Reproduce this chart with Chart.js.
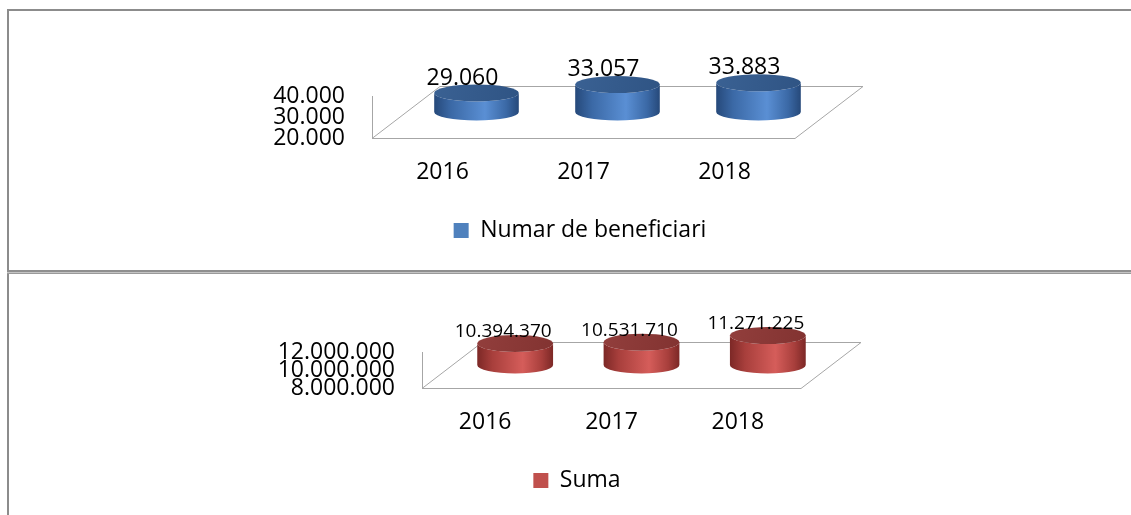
<!DOCTYPE html>
<html>
<head>
<meta charset="utf-8">
<script src="https://cdn.jsdelivr.net/npm/chart.js@4.4.1/dist/chart.umd.min.js"></script>
<style>
    html, body { margin: 0; padding: 0; background: #fff; overflow: hidden; }
    body { width: 1131px; height: 515px; position: relative; }
    .line { position: absolute; }
    canvas { position: absolute; }
</style>
</head>
<body>
<div class="line" style="left:7px; top:9px; width:1124px; height:2px; background:#8c8c8c;"></div>
<div class="line" style="left:7px; top:9px; width:2px; height:506px; background:#8c8c8c;"></div>
<div class="line" style="left:7px; top:270px; width:1124px; height:2px; background:#8f8f8f;"></div>
<div class="line" style="left:7px; top:272px; width:1124px; height:1px; background:#c4c4c4;"></div>
<div class="line" style="left:7px; top:273px; width:1124px; height:1px; background:#9a9a9a;"></div>

<canvas id="chartBenef" width="1122" height="259" style="left:9px; top:11px;"></canvas>
<canvas id="chartSuma" width="1122" height="240" style="left:9px; top:275px;"></canvas>

<script>
// --- Data ---
const years = ['2016', '2017', '2018'];
const beneficiari = [29060, 33057, 33883];
const suma = [10394370, 10531710, 11271225];
const beneficiariTicks = [20000, 30000, 40000];
const sumaTicks = [8000000, 10000000, 12000000];

Chart.defaults.font.family = "'Open Sans', 'Noto Sans', sans-serif";
Chart.defaults.color = '#000';

function fmt(v) {
    return String(v).replace(/\B(?=(\d{3})+(?!\d))/g, '.');
}

// draws the floor + cylinders + value labels
const cylinderPlugin = {
    id: 'cylinders',
    afterLayout(chart) {
        // move the legend so it sits where Excel put it
        const o = chart.options.plugins.cylinders;
        const l = chart.legend;
        const w = l.right - l.left;
        l.left = o.legendCenter - w / 2;
        l.right = o.legendCenter + w / 2;
    },
    beforeDatasetsDraw(chart) {
        const o = chart.options.plugins.cylinders;
        const a = chart.chartArea;
        const ctx = chart.ctx;
        ctx.save();
        ctx.strokeStyle = '#a6a6a6';
        ctx.lineWidth = 1;
        ctx.beginPath();
        ctx.moveTo(a.left + 0.5, a.top);
        ctx.lineTo(a.left + 0.5, a.bottom);
        ctx.stroke();
        ctx.beginPath();
        ctx.moveTo(a.left, a.bottom + 0.5);
        ctx.lineTo(a.right, a.bottom + 0.5);
        ctx.lineTo(a.right + o.dx, a.bottom + o.dy + 0.5);
        ctx.lineTo(a.left + o.dx, a.bottom + o.dy + 0.5);
        ctx.closePath();
        ctx.stroke();
        ctx.restore();
    },
    beforeDatasetDraw() {
        return false;
    },
    afterDatasetsDraw(chart) {
        const o = chart.options.plugins.cylinders;
        const ctx = chart.ctx;
        const meta = chart.getDatasetMeta(0);
        const values = chart.data.datasets[0].data;
        const yScale = chart.scales.y;
        const basePx = yScale.getPixelForValue(yScale.min);
        meta.data.forEach(function(bar, i) {
            const cx = bar.x + o.dx / 2;
            const rx = bar.width / 2;
            const ry = o.ry;
            const topY = bar.y + o.dy / 2;
            const botY = basePx + o.dy / 2;

            ctx.save();
            const g = ctx.createLinearGradient(cx - rx, 0, cx + rx, 0);
            g.addColorStop(0, o.dark);
            g.addColorStop(0.2, o.mid);
            g.addColorStop(0.6, o.light);
            g.addColorStop(0.85, o.mid);
            g.addColorStop(1, o.dark);
            ctx.fillStyle = g;
            ctx.beginPath();
            ctx.moveTo(cx - rx, topY);
            ctx.lineTo(cx - rx, botY);
            ctx.ellipse(cx, botY, rx, ry, 0, Math.PI, 0, true);
            ctx.lineTo(cx + rx, topY);
            ctx.ellipse(cx, topY, rx, ry, 0, 0, Math.PI, false);
            ctx.closePath();
            ctx.fill();

            const gt = ctx.createLinearGradient(cx - rx, topY - ry, cx + rx, topY + ry);
            gt.addColorStop(0, o.topA);
            gt.addColorStop(1, o.topB);
            ctx.fillStyle = gt;
            ctx.beginPath();
            ctx.ellipse(cx, topY, rx, ry, 0, 0, Math.PI * 2);
            ctx.fill();

            ctx.fillStyle = '#000';
            ctx.font = o.labelSize + "px 'Open Sans', 'Noto Sans', sans-serif";
            ctx.textAlign = 'center';
            ctx.textBaseline = 'middle';
            ctx.fillText(fmt(values[i]), cx + o.labelDx, topY + o.labelDy);
            ctx.restore();
        });
    }
};

function makeChart(id, label, values, ticks, color, geo) {
    return new Chart(document.getElementById(id), {
        type: 'bar',
        data: {
            labels: years,
            datasets: [{
                label: label,
                data: values,
                backgroundColor: color,
                borderWidth: 0,
                categoryPercentage: 1,
                barPercentage: 0.6
            }]
        },
        options: {
            responsive: false,
            animation: false,
            devicePixelRatio: 1,
            layout: {
                padding: { left: 0, right: geo.padRight, top: geo.padTop, bottom: geo.padBottom }
            },
            scales: {
                x: {
                    grid: { display: false, drawTicks: false },
                    border: { display: false },
                    ticks: { font: { size: 23 }, padding: 21, maxRotation: 0 },
                    afterFit: function(s) { s.height = 71; }
                },
                y: {
                    min: ticks[0],
                    max: ticks[ticks.length - 1],
                    grid: { display: false, drawTicks: false },
                    border: { display: false },
                    ticks: {
                        font: { size: 23 },
                        padding: 27,
                        autoSkip: false,
                        callback: function(v) { return fmt(v); }
                    },
                    afterBuildTicks: function(s) {
                        s.ticks = ticks.map(v => ({ value: v }));
                    },
                    afterFit: function(s) { s.width = geo.left; }
                }
            },
            plugins: {
                legend: {
                    position: 'bottom',
                    fullSize: false,
                    labels: {
                        boxWidth: 15,
                        boxHeight: 15,
                        font: { size: 23 }
                    }
                },
                tooltip: { enabled: false },
                cylinders: geo.cyl
            }
        },
        plugins: [cylinderPlugin]
    });
}

// --- Charts ---
makeChart('chartBenef', 'Numar de beneficiari', beneficiari, beneficiariTicks, '#4f81bd', {
    left: 363, padRight: 336, padTop: 85, padBottom: 18,
    cyl: {
        dx: 68, dy: -52, ry: 8.5, labelDx: -14, labelDy: -15, labelSize: 23, legendCenter: 571,
        dark: '#26497a', mid: '#3b69a6', light: '#5a8fd4', topA: '#3a6193', topB: '#2f5484'
    }
});

makeChart('chartSuma', 'Suma', suma, sumaTicks, '#c0504d', {
    left: 413, padRight: 330, padTop: 77, padBottom: 13,
    cyl: {
        dx: 60, dy: -46, ry: 8.5, labelDx: -12, labelDy: -12, labelSize: 19, legendCenter: 568,
        dark: '#7c2826', mid: '#a83f3c', light: '#d55d5a', topA: '#923e3c', topB: '#823331'
    }
});
</script>
</body>
</html>
